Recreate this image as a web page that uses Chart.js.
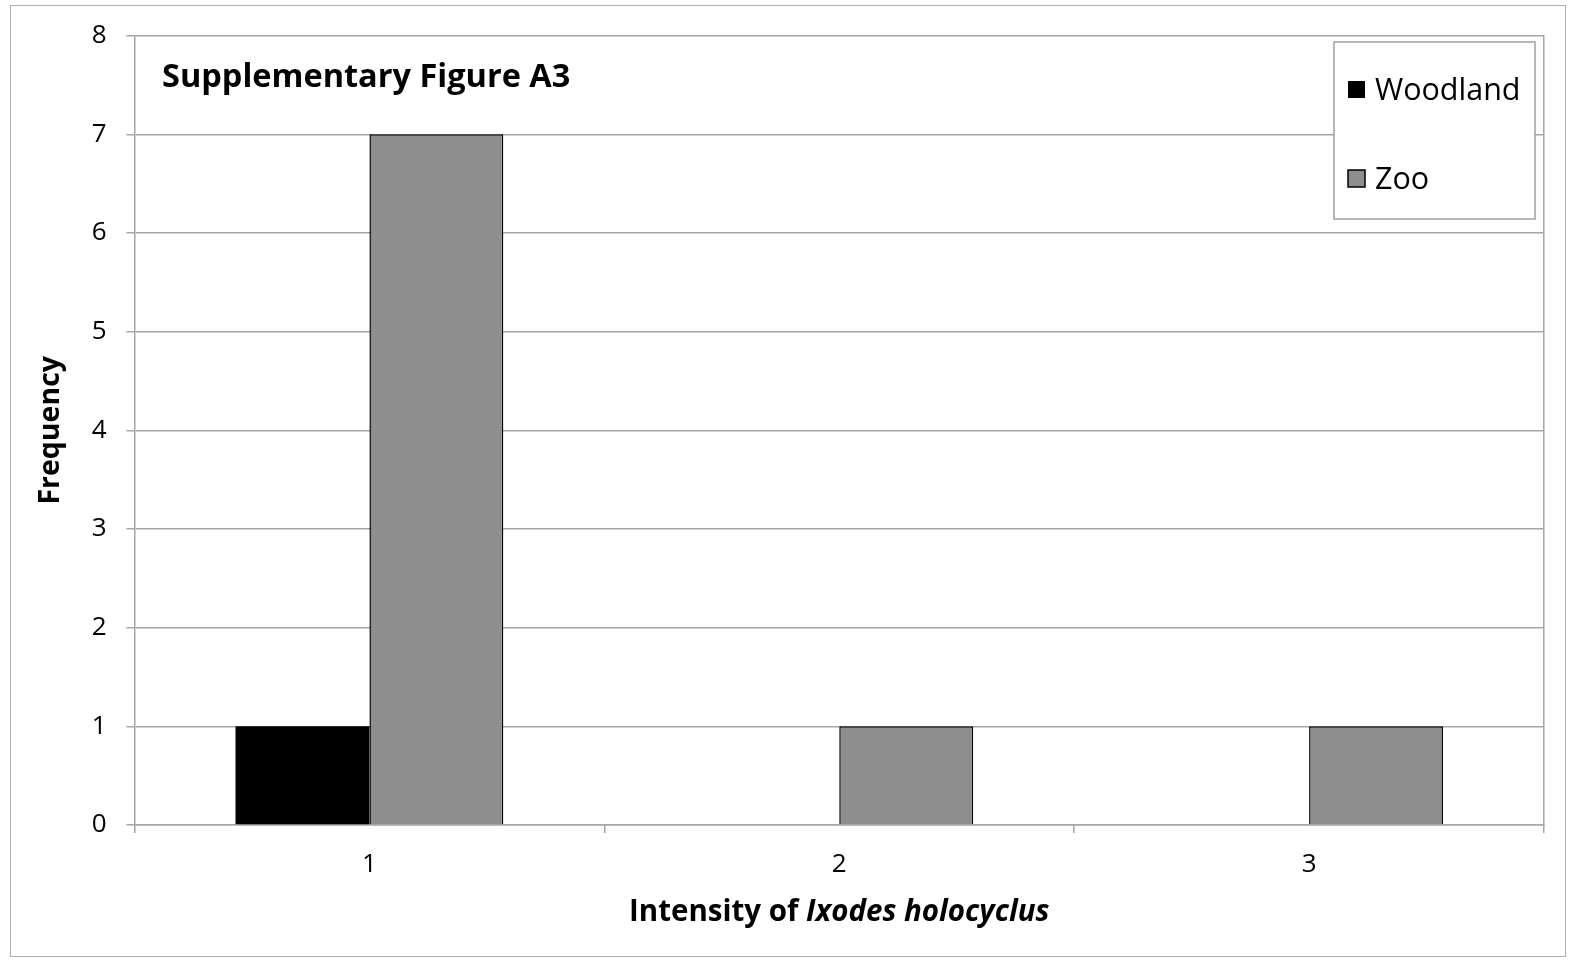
<!DOCTYPE html>
<html>
<head>
<meta charset="utf-8">
<script src="https://cdn.jsdelivr.net/npm/chart.js@4"></script>
<style>
  html, body { margin: 0; padding: 0; background: #fff; }
  #wrap { position: relative; width: 1573px; height: 960px; }
  #frame { position: absolute; left: 10px; top: 5px; width: 1556px; height: 952px; border: 1.5px solid #b0b0b0; box-sizing: border-box; }
</style>
</head>
<body>
<div id="wrap">
  <div id="frame"></div>
  <canvas id="chart" width="1573" height="960"></canvas>
</div>
<script>
// values
var categories = ['1', '2', '3']
var woodland = [1, 0, 0]
var zoo = [7, 1, 1]
var yTicks = [0, 1, 2, 3, 4, 5, 6, 7, 8]

var FONT = '"Open Sans", Lato, sans-serif'
var gridColor = '#a6a6a6'

// title inside the plot, the boxed legend and the mixed-style x title
var extras = {
  id: 'extras',
  afterDraw: (chart) => {
    var ctx = chart.ctx
    var area = chart.chartArea
    ctx.save()

    ctx.fillStyle = '#000'
    ctx.textBaseline = 'middle'
    ctx.textAlign = 'left'
    ctx.font = 'bold 32.5px ' + FONT
    ctx.fillText('Supplementary Figure A3', 162, 78)

    // legend
    ctx.fillStyle = '#fff'
    ctx.fillRect(1334, 42, 201, 177)
    ctx.strokeStyle = '#a0a0a0'
    ctx.lineWidth = 1.5
    ctx.strokeRect(1334, 42, 201, 177)
    ctx.font = '30.5px ' + FONT
    chart.data.datasets.forEach((ds, i) => {
      var y = 90 + i * 89
      ctx.fillStyle = ds.backgroundColor
      ctx.fillRect(1348, y - 9, 17, 17)
      if (ds.borderWidth) {
        ctx.strokeStyle = '#000'
        ctx.lineWidth = 1.5
        ctx.strokeRect(1348, y - 9, 17, 17)
      }
      ctx.fillStyle = '#000'
      ctx.fillText(ds.label, 1375, y + 1)
    })

    // x axis title: "Intensity of" + italic species name
    var a = 'Intensity of '
    var b = 'Ixodes holocyclus'
    ctx.font = 'bold 29.5px ' + FONT
    var wa = ctx.measureText(a).width
    ctx.font = 'italic bold 29.5px ' + FONT
    var wb = ctx.measureText(b).width
    var x0 = (area.left + area.right) / 2 - (wa + wb) / 2
    ctx.fillStyle = '#000'
    ctx.font = 'bold 29.5px ' + FONT
    ctx.fillText(a, x0, 913)
    ctx.font = 'italic bold 29.5px ' + FONT
    ctx.fillText(b, x0 + wa, 913)
    ctx.restore()
  }
}

new Chart(document.getElementById('chart'), {
  type: 'bar',
  data: {
    labels: categories,
    datasets: [
      { label: 'Woodland', data: woodland, backgroundColor: '#000000', borderWidth: 0 },
      { label: 'Zoo', data: zoo, backgroundColor: '#8e8e8e', borderColor: '#000000', borderWidth: 1.5 },
    ],
  },
  options: {
    responsive: false,
    animation: false,
    devicePixelRatio: 1,
    categoryPercentage: 0.57,
    barPercentage: 1.0,
    layout: { padding: { top: 35, left: 0, right: 0, bottom: 0 } },
    plugins: {
      legend: { display: false },
      tooltip: { enabled: false },
    },
    scales: {
      x: {
        grid: { offset: true, drawOnChartArea: false, drawTicks: true, tickLength: 8, color: gridColor, lineWidth: 1.5 },
        border: { color: gridColor, width: 1.5 },
        ticks: { color: '#000', padding: 16, font: { family: FONT, size: 26 } },
        afterFit: (s) => { s.height = 135 },
      },
      y: {
        min: 0,
        max: 8,
        afterBuildTicks: (s) => { s.ticks = yTicks.map((v) => ({ value: v })) },
        grid: { color: gridColor, lineWidth: 1.5, tickLength: 8 },
        border: { color: gridColor, width: 1.5 },
        ticks: { color: '#000', padding: 20, font: { family: FONT, size: 26 } },
        title: { display: true, text: 'Frequency', color: '#000', padding: { top: 34 }, font: { family: FONT, size: 28.5, weight: 'bold' } },
        afterFit: (s) => { s.width = 134.5 },
      },
      y2: {
        position: 'right',
        min: 0,
        max: 8,
        ticks: { display: false },
        grid: { drawOnChartArea: false, drawTicks: false },
        border: { color: gridColor, width: 1.5 },
        afterFit: (s) => { s.width = 29 },
      },
    },
  },
  plugins: [extras],
})
</script>
</body>
</html>
